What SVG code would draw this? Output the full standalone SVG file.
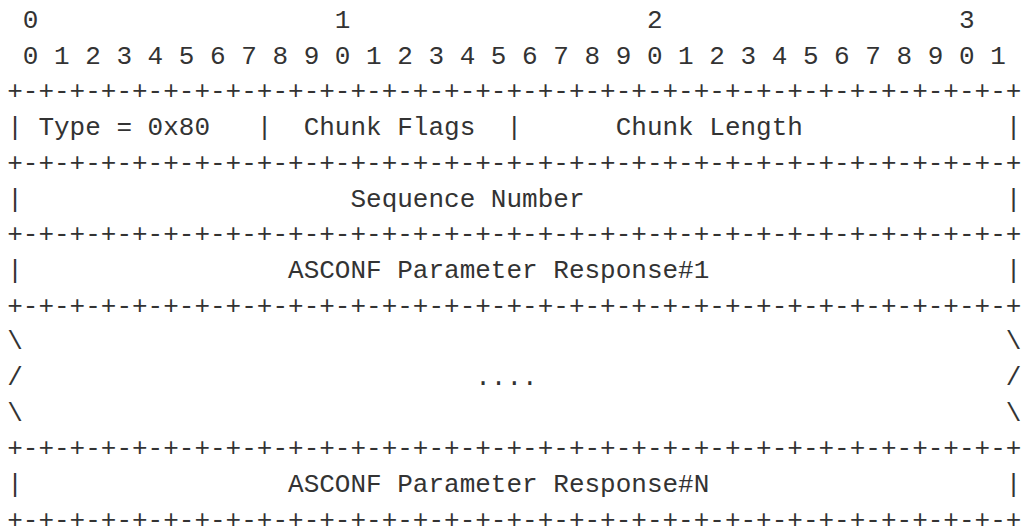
<svg xmlns="http://www.w3.org/2000/svg" width="1024" height="527" viewBox="0 0 1024 527">
<style>
text{font-family:"Liberation Mono","DejaVu Sans Mono",monospace;font-size:26px;fill:#333;white-space:pre}
</style>
<rect width="1024" height="527" fill="#fff"/>
<g id="ruler">
<text x="7.2" y="28" xml:space="preserve"> 0                   1                   2                   3</text>
<text x="7.2" y="63.7" xml:space="preserve"> 0 1 2 3 4 5 6 7 8 9 0 1 2 3 4 5 6 7 8 9 0 1 2 3 4 5 6 7 8 9 0 1</text>
</g>
<g id="connectors">
<text x="7.2" y="99.4">+-+-+-+-+-+-+-+-+-+-+-+-+-+-+-+-+-+-+-+-+-+-+-+-+-+-+-+-+-+-+-+-+</text>
<text x="7.2" y="170.8">+-+-+-+-+-+-+-+-+-+-+-+-+-+-+-+-+-+-+-+-+-+-+-+-+-+-+-+-+-+-+-+-+</text>
<text x="7.2" y="242.2">+-+-+-+-+-+-+-+-+-+-+-+-+-+-+-+-+-+-+-+-+-+-+-+-+-+-+-+-+-+-+-+-+</text>
<text x="7.2" y="313.6">+-+-+-+-+-+-+-+-+-+-+-+-+-+-+-+-+-+-+-+-+-+-+-+-+-+-+-+-+-+-+-+-+</text>
<text x="7.2" y="456.4">+-+-+-+-+-+-+-+-+-+-+-+-+-+-+-+-+-+-+-+-+-+-+-+-+-+-+-+-+-+-+-+-+</text>
<text x="7.2" y="527.8">+-+-+-+-+-+-+-+-+-+-+-+-+-+-+-+-+-+-+-+-+-+-+-+-+-+-+-+-+-+-+-+-+</text>
</g>
<g id="row-header">
<text x="7.2" y="135.1" xml:space="preserve">| Type = 0x80   |  Chunk Flags  |      Chunk Length             |</text>
</g>
<g id="row-sequence">
<text x="7.2" y="206.5" xml:space="preserve">|                     Sequence Number                           |</text>
</g>
<g id="row-response1">
<text x="7.2" y="277.9" xml:space="preserve">|                 ASCONF Parameter Response#1                   |</text>
</g>
<g id="row-ellipsis">
<text x="7.2" y="349.3" xml:space="preserve">\                                                               \</text>
<text x="7.2" y="385" xml:space="preserve">/                             ....                              /</text>
<text x="7.2" y="420.7" xml:space="preserve">\                                                               \</text>
</g>
<g id="row-responseN">
<text x="7.2" y="492.1" xml:space="preserve">|                 ASCONF Parameter Response#N                   |</text>
</g>
</svg>
